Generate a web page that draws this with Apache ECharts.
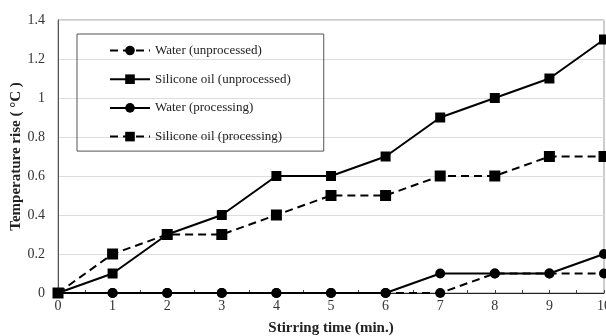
<!DOCTYPE html>
<html><head><meta charset="utf-8">
<script src="https://cdn.jsdelivr.net/npm/echarts@6/dist/echarts.min.js"></script>
<style>html,body{margin:0;padding:0;background:#fff}#c{width:606px;height:336px}</style>
</head><body><div id="c"></div>
<script>
const categories = [0,1,2,3,4,5,6,7,8,9,10];
const waterUnprocessed = [0,0,0,0,0,0,0,0,0.1,0.1,0.1];
const siliconeUnprocessed = [0,0.1,0.3,0.4,0.6,0.6,0.7,0.9,1.0,1.1,1.3];
const waterProcessing = [0,0,0,0,0,0,0,0.1,0.1,0.1,0.2];
const siliconeProcessing = [0,0.2,0.3,0.3,0.4,0.5,0.5,0.6,0.6,0.7,0.7];
const seriesNames = ['Water (unprocessed)','Silicone oil (unprocessed)','Water (processing)','Silicone oil (processing)'];

const font = 'Liberation Serif';
const dash = [8,5];
function mk(name, vals, symbol, size, dashed, z) {
  return {
    name, type:'line', data: categories.map((c,i)=>[c, vals[i]]), symbol, symbolSize:size, z,
    clip:false,
    lineStyle:{color:'#000', width:2, type: dashed ? dash : 'solid'},
    itemStyle:{color:'#000'},
    animation:false
  };
}
const chart = echarts.init(document.getElementById('c'));
chart.setOption({
  animation:false,
  grid:{left:58, right:2, top:20, bottom:43, show:true, borderColor:'#999', borderWidth:1,
        containLabel:false, outerBoundsMode:'none'},
  legend:{
    orient:'vertical', left:77, top:34,
    padding:[10,33,8,32], itemGap:15.7, itemWidth:40, itemHeight:12,
    borderColor:'#555', borderWidth:1,
    textStyle:{fontFamily:font, fontSize:13, color:'#222'},
    data: seriesNames
  },
  xAxis:{
    type:'value', min:0, max:10, interval:1,
    name:'Stirring time (min.)', nameLocation:'middle', nameGap:28, nameMoveOverlap:false,
    nameTextStyle:{fontFamily:font, fontSize:15, fontWeight:'bold', color:'#222'},
    axisLine:{lineStyle:{color:'#222', width:1}},
    axisTick:{show:true, inside:true, length:3, lineStyle:{color:'#444'}},
    minorTick:{show:true, splitNumber:2, length:3, lineStyle:{color:'#444'}},
    axisLabel:{fontFamily:font, fontSize:14, color:'#333', margin:6},
    splitLine:{show:false}
  },
  yAxis:{
    type:'value', min:0, max:1.4, interval:0.2,
    name:'Temperature rise ( °C )', nameLocation:'middle', nameGap:34, nameMoveOverlap:false,
    nameTextStyle:{fontFamily:font, fontSize:15, fontWeight:'bold', color:'#222'},
    axisLine:{show:true, lineStyle:{color:'#555', width:1}},
    axisTick:{show:false},
    axisLabel:{fontFamily:font, fontSize:14, color:'#333', margin:13},
    splitLine:{lineStyle:{color:'#ddd', width:1}}
  },
  series:[
    mk(seriesNames[0], waterUnprocessed, 'circle', 10, true, 2),
    mk(seriesNames[1], siliconeUnprocessed, 'rect', 10, false, 3),
    mk(seriesNames[2], waterProcessing, 'circle', 10, false, 4),
    mk(seriesNames[3], siliconeProcessing, 'rect', 11, true, 2)
  ]
});
</script></body></html>
